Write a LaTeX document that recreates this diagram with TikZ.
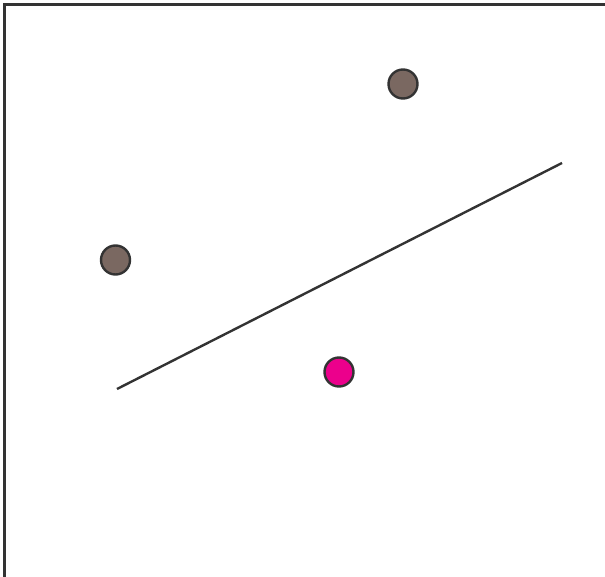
\documentclass[tikz,border=0pt]{standalone}
\definecolor{pointbrown}{HTML}{7A6861}
\definecolor{pointpink}{HTML}{EC008C}
\definecolor{inkgray}{HTML}{333333}
\tikzset{
  datapoint/.style={circle, draw=inkgray, line width=2.4pt, minimum size=29pt, inner sep=0pt},
}
\begin{document}
\begin{tikzpicture}[x=1pt, y=-1pt]
	\useasboundingbox (0,0) rectangle (605,577);
	\draw[inkgray, line width=3pt] (4.5,577) -- (4.5,5) -- (605,5);
	\node[datapoint, fill=pointbrown] (upper) at (403,84) {};
	\node[datapoint, fill=pointbrown] (left) at (115.5,260) {};
	\node[datapoint, fill=pointpink] (query) at (339,372) {};
	\coordinate (lineA) at (117,389);
	\coordinate (lineB) at (562,163);
	\draw[inkgray, line width=2.4pt] (lineA) -- (lineB);
\end{tikzpicture}
\end{document}
